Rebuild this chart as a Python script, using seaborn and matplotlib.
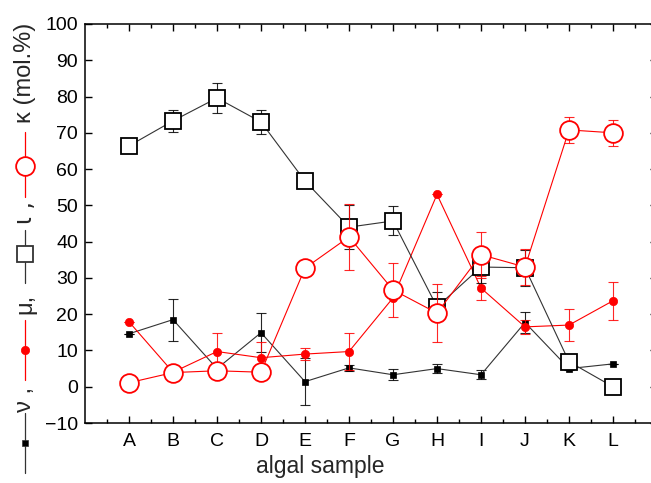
import numpy as np
import pandas as pd
import matplotlib
matplotlib.use('agg')
import matplotlib.pyplot as plt
from matplotlib.lines import Line2D
from matplotlib.ticker import MultipleLocator, FixedLocator
import seaborn as sns

sns.set_style("ticks")
plt.rcParams['font.family'] = ['Liberation Sans', 'DejaVu Sans']

samples = list("ABCDEFGHIJKL")

nu = [14.6, 18.5, 5.0, 14.9, 1.4, 5.2, 3.3, 5.0, 3.3, 17.7, 5.0, 6.3]
nu_err = [0, 5.8, 0, 5.3, 6.5, 0.8, 1.5, 1.3, 1.2, 2.8, 0.5, 0]

mu = [17.9, 4.0, 9.7, 8.0, 9.0, 9.7, 24.5, 53.0, 27.2, 16.5, 17.0, 23.7]
mu_err = [0, 0, 5.0, 4.3, 1.7, 5.0, 0, 0, 3.3, 2.0, 4.5, 5.3]

iota = [66.4, 73.3, 79.6, 73.0, 56.7, 44.0, 45.7, 22.0, 33.0, 32.8, 6.9, 0.0]
iota_err = [1.7, 3.0, 4.0, 3.2, 0, 6.0, 4.0, 4.0, 4.5, 5.0, 0, 0]

kappa = [1.1, 3.9, 4.4, 4.0, 32.7, 41.3, 26.7, 20.3, 36.4, 33.0, 70.8, 70.0]
kappa_err = [0, 0, 0, 0, 1.0, 9.0, 7.5, 8.0, 6.3, 5.0, 3.5, 3.5]

RED = "#ff0000"
BLACK = "#000000"
LINE_BLACK = "#333333"

W, H = 651, 483
fig = plt.figure(figsize=(W / 100, H / 100), dpi=100)
# axes from x=85px to 657px (right spine just off the picture), y=24px to 423px
ax = fig.add_axes([85 / W, 1 - 423 / H, (657 - 85) / W, (423 - 24) / H])

pos = np.arange(1, len(samples) + 1)

series = [
    # values, errors, marker, size, face, edge, line colour, z
    (nu, nu_err, 's', 5, BLACK, BLACK, LINE_BLACK, 3),
    (mu, mu_err, 'o', 6, RED, RED, RED, 4),
    (iota, iota_err, 's', 12, 'white', BLACK, LINE_BLACK, 5),
    (kappa, kappa_err, 'o', 13.5, 'white', RED, RED, 6),
]

for vals, errs, mk, ms, face, edge, lc, z in series:
    df = pd.DataFrame({"pos": pos, "val": vals})
    ecol = BLACK if edge == BLACK else RED
    ax.errorbar(pos, vals, yerr=errs, fmt='none', ecolor=ecol, elinewidth=0.8,
                capsize=3.5, capthick=0.8, zorder=z - 0.5, alpha=0.85)
    sns.lineplot(data=df, x="pos", y="val", ax=ax, color=lc, linewidth=0.8,
                 marker=mk, markersize=ms, markerfacecolor=face,
                 markeredgecolor=edge, markeredgewidth=1.3 if face == 'white' else 0.5,
                 zorder=z)

ax.set_xlim(0, 13)
ax.set_ylim(-10, 100)
ax.xaxis.set_major_locator(FixedLocator(pos))
ax.set_xticklabels(samples)
ax.xaxis.set_minor_locator(FixedLocator(np.arange(0.5, 13, 1.0)))
ax.yaxis.set_major_locator(MultipleLocator(10))

ax.tick_params(axis='both', which='both', direction='in', top=True, right=True,
               labelsize=14, width=1.0, colors=BLACK)
ax.tick_params(axis='both', which='major', length=5)
ax.tick_params(axis='both', which='minor', length=3)
ax.tick_params(axis='x', pad=7)
ax.tick_params(axis='y', pad=5)
for sp in ax.spines.values():
    sp.set_linewidth(1.1)
    sp.set_color(BLACK)

ax.set_ylabel("")
ax.set_xlabel("algal sample", fontsize=16.5)
ax.xaxis.set_label_coords((320 - 85) / (657 - 85), -(466 - 423) / (423 - 24))
ax.xaxis.label.set_va('center')

# composite y label: markers and lines drawn in the label, read bottom to top
fx = 25 / W


def fy(py):
    return 1 - py / H


def seg(y0, y1, color, marker=None, my=None, ms=0, face=None):
    fig.add_artist(Line2D([fx, fx], [fy(y0), fy(y1)], transform=fig.transFigure,
                          color=color, linewidth=0.9))
    if marker:
        fig.add_artist(Line2D([fx], [fy(my)], transform=fig.transFigure, marker=marker,
                              markersize=ms, markerfacecolor=face, markeredgecolor=color,
                              markeredgewidth=1.3 if face == 'white' else 0.5,
                              linestyle='none'))


def lab(py, s, family=None):
    kw = {"family": family} if family else {}
    fig.text(fx, fy(py), s, rotation=90, ha='center', va='center', fontsize=17, **kw)


seg(473, 413, LINE_BLACK, 's', 443, 5, BLACK)
lab(400, "ν ,")
seg(380, 320, RED, 'o', 350, 6, RED)
lab(304, "μ,")
seg(283, 230, LINE_BLACK, 's', 254, 12, 'white')
lab(213, "ι ,", family=['DejaVu Sans'])
seg(197, 132, RED, 'o', 166, 13.5, 'white')
lab(73, "κ (mol.%)")

fig.savefig("out.png", dpi=100)
